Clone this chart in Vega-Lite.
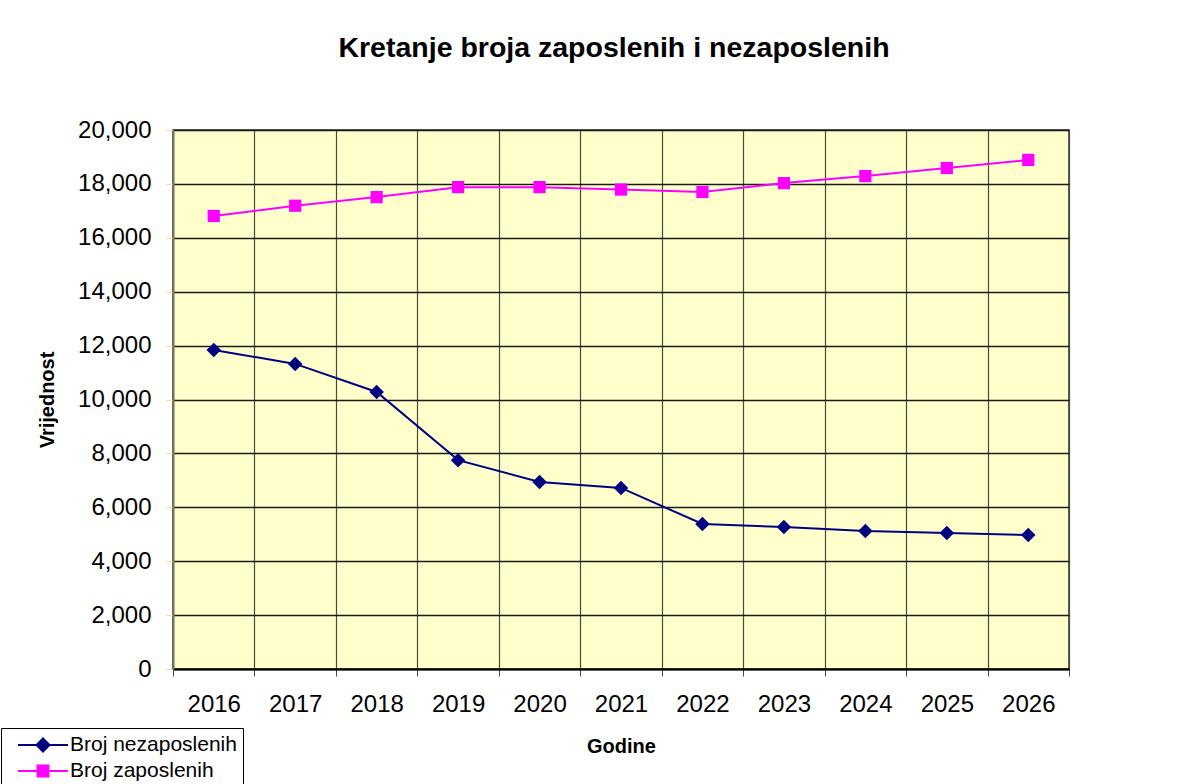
{
  "$schema": "https://vega.github.io/schema/vega-lite/v6.json",
  "width": 896,
  "height": 539,
  "autosize": {"type": "none"},
  "padding": {"left": 173, "top": 130, "right": 134, "bottom": 115},
  "background": "white",
  "title": {
    "text": "Kretanje broja zaposlenih i nezaposlenih",
    "font": "Liberation Sans",
    "fontSize": 28.5,
    "fontWeight": "bold",
    "color": "black",
    "anchor": "middle",
    "frame": "group",
    "baseline": "alphabetic",
    "offset": 33,
    "dx": -7
  },
  "config": {
    "view": {"fill": "#FFFFCC", "stroke": "#2a2a2a", "strokeWidth": 1.5},
    "font": "Liberation Sans"
  },
  "data": {
    "values": [
      {"year": "2016", "series": "Broj nezaposlenih", "value": 11840},
      {"year": "2017", "series": "Broj nezaposlenih", "value": 11320},
      {"year": "2018", "series": "Broj nezaposlenih", "value": 10280},
      {"year": "2019", "series": "Broj nezaposlenih", "value": 7750},
      {"year": "2020", "series": "Broj nezaposlenih", "value": 6940},
      {"year": "2021", "series": "Broj nezaposlenih", "value": 6720},
      {"year": "2022", "series": "Broj nezaposlenih", "value": 5380},
      {"year": "2023", "series": "Broj nezaposlenih", "value": 5270},
      {"year": "2024", "series": "Broj nezaposlenih", "value": 5120},
      {"year": "2025", "series": "Broj nezaposlenih", "value": 5050},
      {"year": "2026", "series": "Broj nezaposlenih", "value": 4970},
      {"year": "2016", "series": "Broj zaposlenih", "value": 16810},
      {"year": "2017", "series": "Broj zaposlenih", "value": 17190},
      {"year": "2018", "series": "Broj zaposlenih", "value": 17510},
      {"year": "2019", "series": "Broj zaposlenih", "value": 17880},
      {"year": "2020", "series": "Broj zaposlenih", "value": 17880},
      {"year": "2021", "series": "Broj zaposlenih", "value": 17790},
      {"year": "2022", "series": "Broj zaposlenih", "value": 17700},
      {"year": "2023", "series": "Broj zaposlenih", "value": 18030},
      {"year": "2024", "series": "Broj zaposlenih", "value": 18290},
      {"year": "2025", "series": "Broj zaposlenih", "value": 18590},
      {"year": "2026", "series": "Broj zaposlenih", "value": 18890}
    ]
  },
  "encoding": {
    "x": {
      "field": "year",
      "type": "ordinal",
      "scale": {"paddingInner": 0, "paddingOuter": 0},
      "axis": {
        "title": "Godine",
        "titleFont": "Liberation Sans",
        "titleFontSize": 20,
        "titleFontWeight": "bold",
        "titleColor": "black",
        "titlePadding": 20,
        "labelFont": "Liberation Sans",
        "labelFontSize": 24,
        "labelColor": "black",
        "labelAngle": 0,
        "labelPadding": 16,
        "tickBand": "extent",
        "grid": true,
        "gridColor": "#4a4a3a",
        "gridWidth": 1.2,
        "ticks": true,
        "tickColor": "#4a4a3a",
        "tickSize": 7,
        "domainColor": "black",
        "domainWidth": 2
      }
    },
    "y": {
      "field": "value",
      "type": "quantitative",
      "scale": {"domain": [0, 20000], "nice": false},
      "axis": {
        "title": "Vrijednost",
        "titleFont": "Liberation Sans",
        "titleFontSize": 20,
        "titleFontWeight": "bold",
        "titleColor": "black",
        "titlePadding": 20,
        "values": [0, 2000, 4000, 6000, 8000, 10000, 12000, 14000, 16000, 18000, 20000],
        "format": ",.0f",
        "labelFont": "Liberation Sans",
        "labelFontSize": 24,
        "labelColor": "black",
        "labelPadding": 15,
        "grid": true,
        "gridColor": "#1a1a1a",
        "gridWidth": 1.6,
        "tickColor": "#e6e6a0",
        "tickSize": 7,
        "domainColor": "#7a7a60",
        "domainWidth": 2
      }
    },
    "color": {
      "field": "series",
      "type": "nominal",
      "scale": {"domain": ["Broj nezaposlenih", "Broj zaposlenih"], "range": ["#000080", "#FF00FF"]},
      "legend": {
        "title": null,
        "orient": "none",
        "legendX": -172,
        "legendY": 598,
        "direction": "vertical",
        "padding": 6,
        "strokeColor": "black",
        "fillColor": "white",
        "labelFont": "Liberation Sans",
        "labelFontSize": 21,
        "labelColor": "black",
        "labelLimit": 400,
        "labelOffset": 41,
        "symbolSize": 400,
        "rowPadding": 4,
        "encode": {
          "symbols": {
            "update": {
              "shape": {"signal": "datum.value === 'Broj nezaposlenih' ? 'M0.0,0H5.0M2.5,-0.65L3.15,0L2.5,0.65L1.85,0Z' : 'M0.0,0H5.0M1.95,-0.55H3.05V0.55H1.95Z'"},
              "fill": {"scale": "color", "field": "value"},
              "stroke": {"scale": "color", "field": "value"},
              "strokeWidth": {"value": 2},
              "opacity": {"value": 1},
              "fillOpacity": {"value": 1}
            }
          }
        }
      }
    }
  },
  "layer": [
    {"mark": {"type": "line", "strokeWidth": 2}},
    {
      "transform": [{"filter": "datum.series === 'Broj nezaposlenih'"}],
      "mark": {"type": "point", "shape": "diamond", "filled": true, "opacity": 1, "size": 210}
    },
    {
      "transform": [{"filter": "datum.series === 'Broj zaposlenih'"}],
      "mark": {"type": "point", "shape": "square", "filled": true, "opacity": 1, "size": 150}
    }
  ]
}
